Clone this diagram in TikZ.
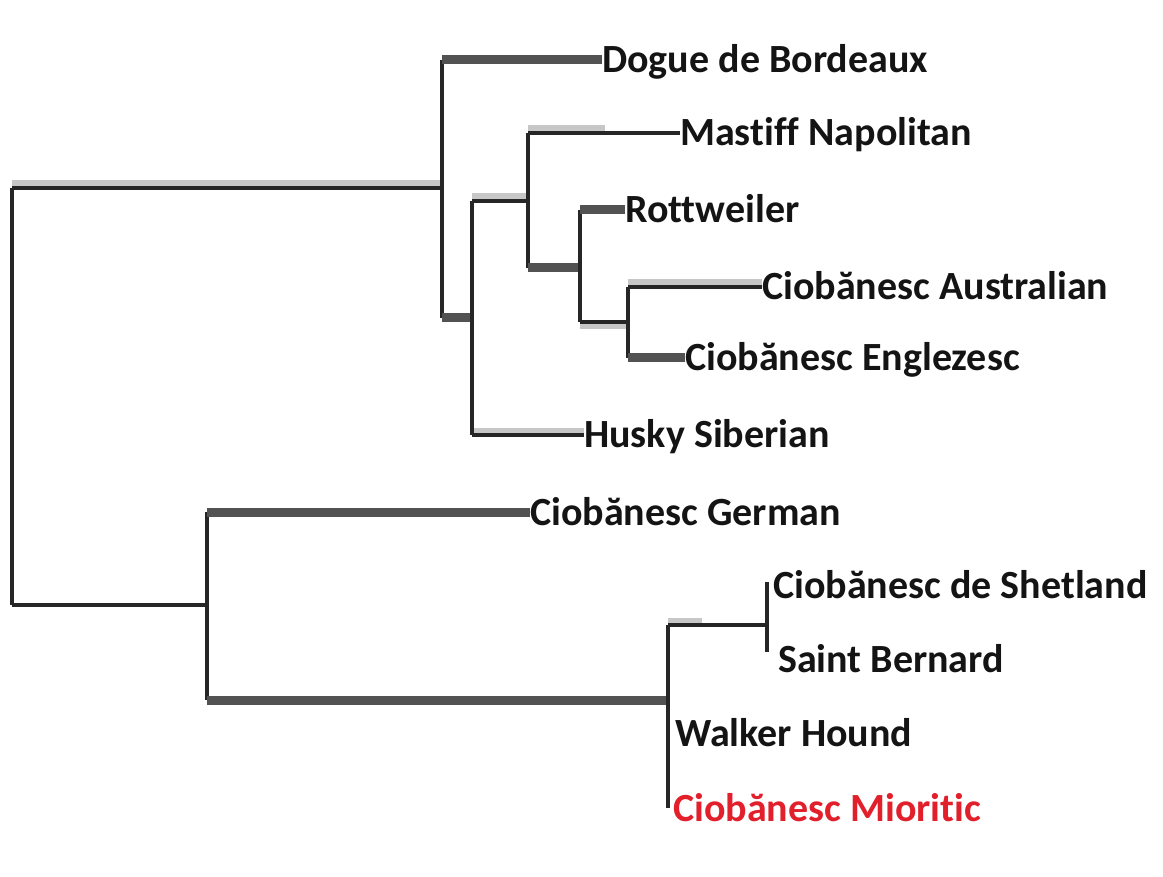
\documentclass[tikz,border=0pt]{standalone}
\usepackage{fontspec}
\setmainfont[Ligatures=NoCommon]{Carlito}
\definecolor{mioritic}{RGB}{226,32,44}
\begin{document}
\begin{tikzpicture}[x=1pt,y=-1pt,
  leaf/.style={anchor=west, inner sep=0pt, text height=26pt, text depth=0pt,
               font=\fontsize{40}{48}\selectfont\bfseries, text=black!92},
  thinline/.style={draw=black!85, line width=4pt, line cap=square},
  thickline/.style={draw=black!68, line width=9pt},
  halo/.style={draw=black!22, line width=9pt}]
\useasboundingbox[fill=white] (0,0) rectangle (1163,877);

% leaves
\node[leaf] (dogue) at (602,60) {Dogue de Bordeaux};
\node[leaf] (mastiff) at (680,133) {Mastiff Napolitan};
\node[leaf] (rott) at (625,210) {Rottweiler};
\node[leaf] (austr) at (762,287) {Ciobănesc Australian};
\node[leaf] (engl) at (685,358) {Ciobănesc Englezesc};
\node[leaf] (husky) at (584,435) {Husky Siberian};
\node[leaf] (german) at (530,512) {Ciobănesc German};
\node[leaf] (shet) at (773,585) {Ciobănesc de Shetland};
\node[leaf] (saint) at (778,659) {Saint Bernard};
\node[leaf] (walker) at (675,733) {Walker Hound};
\node[leaf, text=mioritic] (mior) at (673,808) {Ciobănesc Mioritic};

% internal nodes
\coordinate (R) at (12,396);
\coordinate (A) at (442,188);
\coordinate (B) at (472,318);
\coordinate (C) at (528,201);
\coordinate (D) at (580,268);
\coordinate (E) at (628,322);
\coordinate (F) at (207,605);
\coordinate (G) at (668,700);
\coordinate (H) at (767,625);

% halos
\draw[halo] ([yshift=3pt]R |- A) -- ([yshift=3pt]A);
\draw[halo] ([yshift=3pt]C |- mastiff.west) -- ([xshift=-75pt,yshift=3pt]mastiff.west);
\draw[halo] ([yshift=3pt]B |- C) -- ([yshift=3pt]C);
\draw[halo] ([yshift=3pt]E |- austr.west) -- ([yshift=3pt]austr.west);
\draw[halo] ([yshift=-3pt]D |- E) -- ([yshift=-3pt]E);
\draw[halo] ([yshift=2pt]B |- husky.west) -- ([yshift=2pt]husky.west);
\draw[halo] ([yshift=3pt]G |- H) -- ([xshift=-65pt,yshift=3pt]H);

% root
\draw[thinline] (R |- A) -- (R |- F);
\draw[thinline] (R |- A) -- (A);
\draw[thinline] (R |- F) -- (F);

% node A
\draw[thinline] (A |- dogue.west) -- (A |- B);
\draw[thickline] (A |- dogue.west) -- (dogue.west);
\draw[thickline] (A |- B) -- (B);

% node B
\draw[thinline] (B |- C) -- (B |- husky.west);
\draw[thinline] (B |- C) -- (C);
\draw[thinline] (B |- husky.west) -- (husky.west);

% node C
\draw[thinline] (C |- mastiff.west) -- (C |- D);
\draw[thinline] (C |- mastiff.west) -- (mastiff.west);
\draw[thickline] (C |- D) -- (D);

% node D
\draw[thinline] (D |- rott.west) -- (D |- E);
\draw[thickline] (D |- rott.west) -- (rott.west);
\draw[thinline] (D |- E) -- (E);

% node E
\draw[thinline] (E |- austr.west) -- (E |- engl.west);
\draw[thinline] (E |- austr.west) -- (austr.west);
\draw[thickline] (E |- engl.west) -- (engl.west);

% node F
\draw[thinline] (F |- german.west) -- (F |- G);
\draw[thickline] (F |- german.west) -- (german.west);
\draw[thickline] (F |- G) -- (G);

% node G
\draw[thinline] (G |- H) -- (G |- mior.west);
\draw[thinline] (G |- H) -- (H);

% node H
\draw[thinline] ([yshift=3pt]H |- shet.west) -- ([yshift=7pt]H |- saint.west);
\end{tikzpicture}
\end{document}
